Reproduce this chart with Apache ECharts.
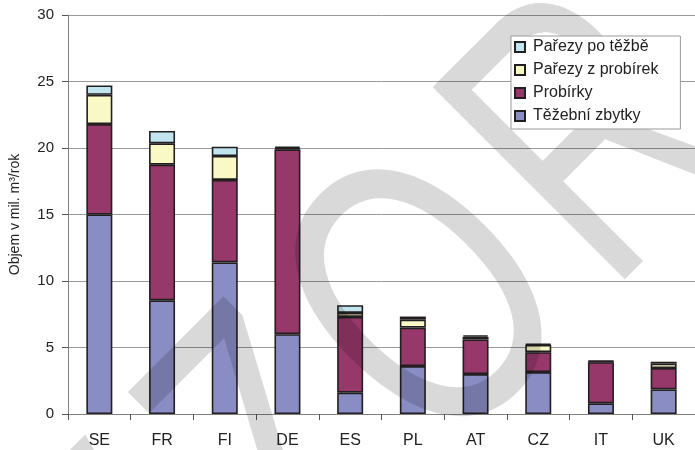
<!DOCTYPE html>
<html>
<head>
<meta charset="utf-8">
<script src="https://cdn.jsdelivr.net/npm/echarts@6/dist/echarts.min.js"></script>
<style>html,body{margin:0;padding:0;background:#fff;}#c{width:695px;height:450px;}</style>
</head>
<body>
<div id="c"></div>
<script>
var categories = ['SE', 'FR', 'FI', 'DE', 'ES', 'PL', 'AT', 'CZ', 'IT', 'UK'];
var tezebniZbytky = [15.0, 8.55, 11.4, 6.0, 1.6, 3.6, 3.0, 3.15, 0.8, 1.85];
var probirky = [6.8, 10.2, 6.2, 13.9, 5.7, 2.9, 2.6, 1.5, 3.1, 1.6];
var parezyZProbirek = [2.2, 1.6, 1.8, 0.1, 0.3, 0.6, 0.2, 0.55, 0.05, 0.33];
var parezyPoTezbe = [0.7, 0.93, 0.7, 0.1, 0.58, 0.23, 0.12, 0.08, 0.05, 0.15];
var yTicks = [0, 5, 10, 15, 20, 25, 30];
var watermarkLetters = ['V', 'Z', 'O', 'R'];

var FONT = '"Liberation Sans", Arial, Helvetica, sans-serif';
var chart = echarts.init(document.getElementById('c'), null, {renderer: 'canvas'});

function mkSeries(name, data, color) {
  return {
    name: name, type: 'bar', stack: 'total', data: data, barWidth: 26,
    itemStyle: {color: color, borderColor: '#231f20', borderWidth: 1.6},
    emphasis: {disabled: true}
  };
}

var wmX = [-610, -300, 0, 332];
var wmChildren = watermarkLetters.map(function (ch, i) {
  return {
    type: 'text', x: wmX[i], y: 0, z: 3, silent: true,
    style: {
      text: ch, fontSize: 395, fontFamily: FONT,
      fill: 'rgba(0,0,0,0.15)', textAlign: 'center', textVerticalAlign: 'middle'
    }
  };
});

chart.setOption({
  animation: false,
  backgroundColor: '#fff',
  grid: {left: 67, top: 15, width: 632, bottom: 36, containLabel: false},
  legend: {
    orient: 'vertical', left: 511, top: 36,
    data: ['Pařezy po těžbě', 'Pařezy z probírek', 'Probírky', 'Těžební zbytky'],
    icon: 'rect', itemWidth: 10, itemHeight: 10, itemGap: 7,
    padding: [3, 22, 5, 3],
    backgroundColor: '#fff', borderColor: '#999', borderWidth: 1,
    textStyle: {fontSize: 16, fontFamily: FONT, color: '#222', lineHeight: 16, padding: [0, 0, 0, 3]},
    selectedMode: false
  },
  xAxis: {
    type: 'category', data: categories,
    axisLine: {lineStyle: {color: '#808080', width: 1}},
    axisTick: {show: true, alignWithLabel: false, length: 6, lineStyle: {color: '#555'}},
    axisLabel: {fontSize: 16, fontFamily: FONT, color: '#222', margin: 19}
  },
  yAxis: {
    type: 'value', min: yTicks[0], max: yTicks[yTicks.length - 1], interval: 5,
    name: 'Objem v mil. m³/rok', nameLocation: 'middle', nameGap: 46,
    nameTextStyle: {fontSize: 14, fontFamily: FONT, color: '#222'},
    axisLine: {show: true, lineStyle: {color: '#808080', width: 1}},
    axisTick: {show: true, length: 6, lineStyle: {color: '#555'}},
    axisLabel: {fontSize: 15, fontFamily: FONT, color: '#222', margin: 14},
    splitLine: {lineStyle: {color: '#999', width: 1}}
  },
  series: [
    mkSeries('Těžební zbytky', tezebniZbytky, '#8a8dc4'),
    mkSeries('Probírky', probirky, '#963869'),
    mkSeries('Pařezy z probírek', parezyZProbirek, '#f9f9c6'),
    mkSeries('Pařezy po těžbě', parezyPoTezbe, '#c1e5ef')
  ],
  graphic: [{
    type: 'group', x: 438, y: 312, rotation: Math.PI / 4, scaleX: 0.7, scaleY: 1, z: 3,
    silent: true,
    children: wmChildren
  }]
});
</script>
</body>
</html>
